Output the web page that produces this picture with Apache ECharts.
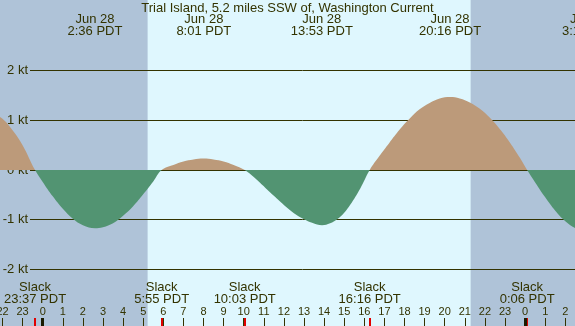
<!DOCTYPE html>
<html>
<head>
<meta charset="utf-8">
<script src="https://cdn.jsdelivr.net/npm/echarts@6/dist/echarts.min.js"></script>
<style>
  html, body { margin: 0; padding: 0; }
  #chart { width: 575px; height: 326px; }
</style>
</head>
<body>
<div id="chart"></div>
<script>
// current readings, hours from midnight Jun 28 (PDT) -> knots (+ flood, - ebb)
const flowHours = [-3.0, -2.5, -2.0, -1.5, -1.0, -0.38, 0.0, 0.5, 1.0, 1.5, 2.0, 2.6, 3.0, 3.5, 4.0, 4.5, 5.0, 5.5, 5.92,
  6.5, 7.0, 7.5, 8.0, 8.5, 9.0, 9.5, 10.05, 10.5, 10.8, 11.5, 12.1, 12.5, 13.0, 13.4, 13.9, 14.3, 14.65, 15.0, 15.3, 15.8, 16.27,
  16.75, 17.25, 17.75, 18.25, 18.75, 19.25, 19.75, 20.27, 20.75, 21.25, 21.75, 22.25, 22.75, 23.25, 23.75, 24.1,
  24.5, 25.0, 25.5, 26.0, 26.5, 27.2, 28.0]
const flowKnots = [1.25, 1.15, 1.03, 0.80, 0.50, 0, -0.24, -0.53, -0.78, -0.98, -1.11, -1.17, -1.15, -1.07, -0.92, -0.73, -0.49, -0.23, 0,
  0.10, 0.17, 0.21, 0.23, 0.21, 0.17, 0.10, 0, -0.14, -0.25, -0.52, -0.74, -0.87, -0.99, -1.06, -1.11, -1.07, -0.99, -0.86, -0.70, -0.37, 0,
  0.28, 0.55, 0.81, 1.03, 1.22, 1.35, 1.44, 1.47, 1.44, 1.36, 1.23, 1.05, 0.82, 0.55, 0.24, 0,
  -0.25, -0.55, -0.82, -1.03, -1.17, -1.25, -1.17]

const peakHours = [2.6, 8.017, 13.883, 20.267, 27.2]
const peakLabels = ['Jun 28\n2:36 PDT', 'Jun 28\n8:01 PDT', 'Jun 28\n13:53 PDT', 'Jun 28\n20:16 PDT', 'Jun 29\n3:12 PDT']
const slackHours = [-0.383, 5.917, 10.05, 16.267, 24.1]
const slackLabels = ['Slack\n23:37 PDT', 'Slack\n5:55 PDT', 'Slack\n10:03 PDT', 'Slack\n16:16 PDT', 'Slack\n0:06 PDT']
const midnightHours = [0, 24]
const sunrise = 5.22
const sunset = 21.29
const knotTicks = [-2, -1, 0, 1, 2]

const INK = '#333300'
const NIGHT = '#afc3d8'
const DAY = '#dff7fe'
const FLOOD = '#bc9a7a'
const EBB = '#529472'

function pick(list, labels, v) {
  const i = list.findIndex(h => Math.abs(h - v) < 1e-6)
  return i < 0 ? '' : labels[i]
}

const hourAxis = {
  gridIndex: 0,
  type: 'value',
  min: -3,
  max: 28,
  position: 'bottom',
  z: 5,
  axisLine: { show: false, onZero: false },
  splitLine: { show: false },
}

const chart = echarts.init(document.getElementById('chart'))
chart.setOption({
  animation: false,
  backgroundColor: NIGHT,
  textStyle: { fontFamily: 'Liberation Sans, Arial, sans-serif', color: INK },
  title: {
    text: 'Trial Island, 5.2 miles SSW of, Washington Current',
    left: 'center',
    top: 1,
    padding: 0,
    textStyle: { fontSize: 13, fontWeight: 'normal', color: INK, lineHeight: 14, fontFamily: 'Liberation Sans, Arial, sans-serif' },
  },
  grid: [
    { left: -17.6, right: -30.5, top: 0, bottom: 0, outerBoundsMode: 'none', containLabel: false },
    { left: 30, right: 0, top: 70.7, bottom: 56.7, outerBoundsMode: 'none', containLabel: false },
  ],
  xAxis: [
    {
      ...hourAxis,
      interval: 1,
      axisTick: { inside: true, length: 8, lineStyle: { color: INK, width: 1 } },
      axisLabel: {
        inside: true,
        margin: 8,
        fontSize: 11,
        lineHeight: 12,
        color: INK,
        formatter: v => String(((v % 24) + 24) % 24),
      },
    },
    {
      ...hourAxis,
      axisTick: { inside: true, length: 8, customValues: slackHours, lineStyle: { color: '#e00000', width: 2 } },
      axisLabel: {
        inside: true,
        margin: 21,
        fontSize: 13,
        lineHeight: 12,
        color: INK,
        customValues: slackHours,
        formatter: v => pick(slackHours, slackLabels, v),
      },
    },
    {
      ...hourAxis,
      axisTick: { inside: true, length: 8, customValues: midnightHours, lineStyle: { color: '#1a1a00', width: 3 } },
      axisLabel: { show: false },
    },
    {
      ...hourAxis,
      position: 'top',
      axisTick: { show: false },
      axisLabel: {
        inside: true,
        margin: 14,
        fontSize: 13,
        lineHeight: 11.5,
        color: INK,
        customValues: peakHours,
        formatter: v => pick(peakHours, peakLabels, v),
      },
    },
    { gridIndex: 1, type: 'value', min: -3, max: 28, show: false },
  ],
  yAxis: [
    { gridIndex: 0, type: 'value', min: -3.139, max: 3.4205, show: false },
    {
      gridIndex: 1,
      type: 'value',
      min: knotTicks[0],
      max: knotTicks[knotTicks.length - 1],
      interval: 1,
      z: 1.5,
      axisLine: { show: false },
      axisTick: { show: false },
      axisLabel: { margin: 2, fontSize: 13, color: INK, formatter: '{value} kt' },
      splitLine: { lineStyle: { color: INK, width: 1 } },
    },
  ],
  visualMap: {
    type: 'piecewise',
    show: false,
    seriesIndex: 1,
    dimension: 1,
    pieces: [
      { gt: -10, lte: 0, color: EBB },
      { gt: 0, lte: 10, color: FLOOD },
    ],
  },
  series: [
    {
      type: 'line',
      xAxisIndex: 0,
      yAxisIndex: 0,
      silent: true,
      symbol: 'none',
      z: 1,
      data: [[sunrise, 0]],
      lineStyle: { width: 0, opacity: 0 },
      markArea: {
        silent: true,
        z: 1,
        itemStyle: { color: DAY, opacity: 1 },
        data: [[{ xAxis: sunrise }, { xAxis: sunset }]],
      },
    },
    {
      type: 'line',
      xAxisIndex: 0,
      yAxisIndex: 0,
      z: 3,
      smooth: 0.4,
      symbol: 'none',
      silent: true,
      lineStyle: { width: 0, opacity: 0 },
      areaStyle: { opacity: 1 },
      data: flowHours.map((h, i) => [h, flowKnots[i]]),
    },
  ],
})
</script>
</body>
</html>
